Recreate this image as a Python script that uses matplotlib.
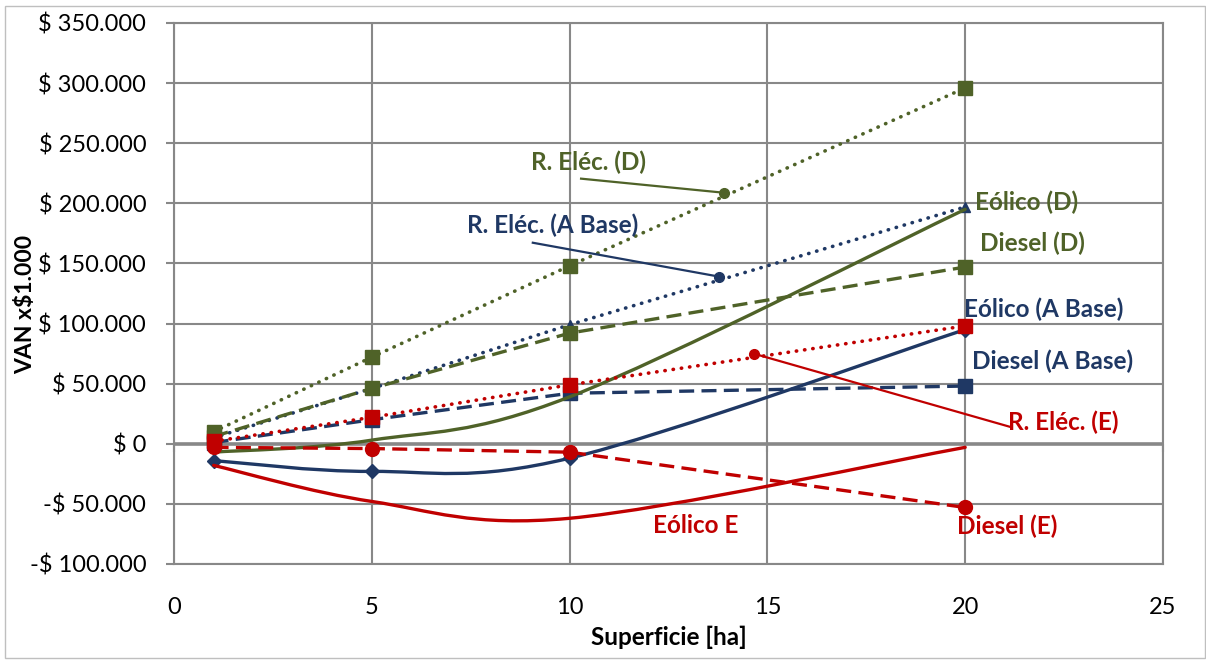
import matplotlib
matplotlib.use("Agg")
import matplotlib.pyplot as plt
from matplotlib.path import Path
from matplotlib.patches import PathPatch, Rectangle
from matplotlib.ticker import FuncFormatter, MultipleLocator

plt.rcParams["font.family"] = ["Lato", "DejaVu Sans"]

# superficie [ha]
superficie = [1, 5, 10, 20]

# VAN por escenario
r_elec_base = [5000, 46000, 99000, 197000]
diesel_base = [1000, 20000, 42000, 48000]
eolico_base = [-14000, -23000, -12000, 95000]

r_elec_d = [10000, 72000, 148000, 296000]
diesel_d = [6000, 46000, 92000, 147000]
eolico_d = [-7000, 3000, 39000, 195000]

r_elec_e = [2000, 22000, 49000, 98000]
diesel_e = [-3000, -4000, -7000, -53000]
eolico_e = [-18000, -48000, -62000, -3000]

VERDE = "#4F6228"
AZUL = "#1F3864"
ROJO = "#C00000"
GRIS = "#888888"


def curva_suave(ax, xs, ys, color, lw):
    # suavizado tipo Excel (Catmull-Rom -> Bezier)
    pts = list(zip(xs, ys))
    verts = [pts[0]]
    codes = [Path.MOVETO]
    n = len(pts)
    for i in range(n - 1):
        p0 = pts[i - 1] if i > 0 else pts[i]
        p1 = pts[i]
        p2 = pts[i + 1]
        p3 = pts[i + 2] if i + 2 < n else pts[i + 1]
        c1 = (p1[0] + (p2[0] - p0[0]) / 6, p1[1] + (p2[1] - p0[1]) / 6)
        c2 = (p2[0] - (p3[0] - p1[0]) / 6, p2[1] - (p3[1] - p1[1]) / 6)
        verts += [c1, c2, p2]
        codes += [Path.CURVE4] * 3
    ax.add_patch(PathPatch(Path(verts, codes), fill=False, ec=color, lw=lw,
                           capstyle="round", zorder=3))


def main():
    fig = plt.figure(figsize=(12.06, 6.6), dpi=100)
    ax = fig.add_axes([0.1443, 0.1455, 0.82, 0.8197])

    ax.set_xlim(0, 25)
    ax.set_ylim(-100000, 350000)
    ax.xaxis.set_major_locator(MultipleLocator(5))
    ax.yaxis.set_major_locator(MultipleLocator(50000))
    ax.grid(True, color=GRIS, lw=1.5)
    ax.set_axisbelow(True)
    for s in ax.spines.values():
        s.set_color(GRIS)
        s.set_linewidth(1.5)
    ax.axhline(0, color=GRIS, lw=2.6, zorder=1)

    def fmt(v, pos):
        txt = "$ {:,.0f}".format(abs(v)).replace(",", ".")
        return "-" + txt if v < 0 else txt
    ax.yaxis.set_major_formatter(FuncFormatter(fmt))
    ax.tick_params(axis="y", length=6, color=GRIS, width=1.5, labelsize=17, pad=14)
    ax.tick_params(axis="x", length=0, labelsize=17, pad=24)
    # marcas del eje x sobre la linea de cero
    ax.plot(ax.get_xticks(), [0] * len(ax.get_xticks()), ls="none", marker=3,
            ms=6, mew=1.5, color=GRIS, clip_on=False, zorder=2)

    ax.set_xlabel("Superficie [ha]", fontsize=17.5, fontweight="bold", labelpad=5)
    ax.set_ylabel("VAN x$1.000", fontsize=16.5, fontweight="bold")
    ax.yaxis.set_label_coords(-0.139, 0.48)

    dot = (0, (0.1, 2.2))
    dash = (0, (4.5, 2.2))

    # escenario base (azul)
    ax.plot(superficie, r_elec_base, color=AZUL, lw=2.6, ls=dot, dash_capstyle="round",
            marker="^", ms=7, zorder=3)
    ax.plot(superficie, diesel_base, color=AZUL, lw=2.4, ls=dash, marker="s", ms=10, zorder=3)
    curva_suave(ax, superficie, eolico_base, AZUL, 2.4)
    ax.plot(superficie, eolico_base, ls="none", color=AZUL, marker="D", ms=7, zorder=3)

    # escenario D (verde)
    ax.plot(superficie, r_elec_d, color=VERDE, lw=2.6, ls=dot, dash_capstyle="round",
            marker="s", ms=10, zorder=3)
    ax.plot(superficie, diesel_d, color=VERDE, lw=2.4, ls=dash, marker="s", ms=10, zorder=3)
    curva_suave(ax, superficie, eolico_d, VERDE, 2.4)

    # escenario E (rojo)
    ax.plot(superficie, r_elec_e, color=ROJO, lw=2.6, ls=dot, dash_capstyle="round",
            marker="s", ms=10, zorder=3)
    ax.plot(superficie, diesel_e, color=ROJO, lw=2.4, ls=dash, marker="o", ms=10, zorder=3)
    curva_suave(ax, superficie, eolico_e, ROJO, 2.4)

    # etiquetas con lineas guia
    guias = [
        ("R. Eléc. (D)", (10.47, 233800), (10.29, 220500), (13.9, 208800), VERDE, "center"),
        ("R. Eléc. (A Base)", (9.56, 181400), (9.07, 167200), (13.78, 139000), AZUL, "center"),
        ("R. Eléc. (E)", (21.08, 17500), (21.13, 14100), (14.66, 74900), ROJO, "left"),
    ]
    for txt, pos, p0, p1, col, ha in guias:
        ax.text(pos[0], pos[1], txt, color=col, fontsize=17.5, fontweight="bold",
                ha=ha, va="center", zorder=5)
        ax.plot([p0[0], p1[0]], [p0[1], p1[1]], color=col, lw=1.6, zorder=4)
        ax.plot(p1[0], p1[1], "o", color=col, ms=7, zorder=4)

    etiquetas = [
        ("Eólico (D)", 20.25, 200500, VERDE, "left"),
        ("Diesel (D)", 20.37, 166400, VERDE, "left"),
        ("Eólico (A Base)", 19.97, 111500, AZUL, "left"),
        ("Diesel (A Base)", 20.17, 68200, AZUL, "left"),
        ("Diesel (E)", 21.06, -69000, ROJO, "center"),
        ("Eólico E", 13.2, -68200, ROJO, "center"),
    ]
    for txt, x, y, col, ha in etiquetas:
        ax.text(x, y, txt, color=col, fontsize=17.5, fontweight="bold",
                ha=ha, va="center", zorder=5)

    # marco del grafico
    fig.patches.append(Rectangle((5 / 1206, 2 / 660), 1200 / 1206, 652 / 660,
                                 transform=fig.transFigure, fill=False,
                                 ec="#BFBFBF", lw=1))

    fig.savefig("out.png", dpi=100)


if __name__ == '__main__':
    main()
